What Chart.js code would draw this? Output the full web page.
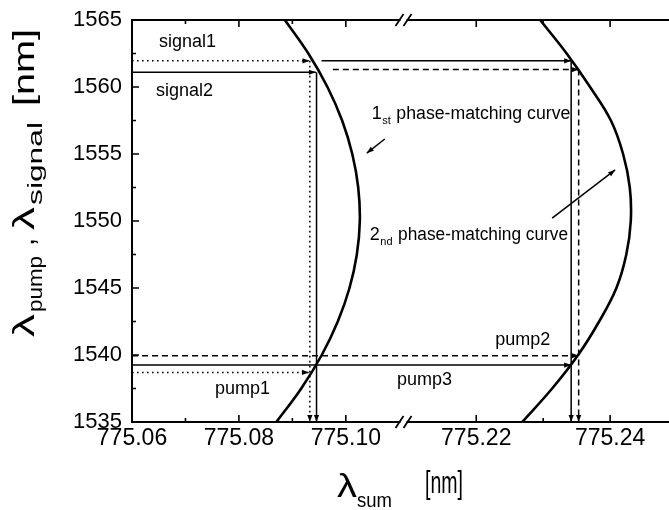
<!DOCTYPE html>
<html>
<head>
<meta charset="utf-8">
<script src="https://cdn.jsdelivr.net/npm/chart.js@4.4.1/dist/chart.umd.min.js"></script>
<style>
html,body{margin:0;padding:0;background:#ffffff;}
canvas{display:block;}
</style>
</head>
<body>
<canvas id="chart" width="669" height="510"></canvas>
<script>
// ---------- axes ----------
const xRange = [775.06, 775.2488];
const xBreak = [775.1092, 775.2104];
const xTicks = [775.06, 775.08, 775.10, 775.22, 775.24];
const xMinorTicks = [775.07, 775.09, 775.23];
const yRange = [1535, 1565];
const yTicks = [1535, 1540, 1545, 1550, 1555, 1560, 1565];
const yMinorTicks = [1537.5, 1542.5, 1547.5, 1552.5, 1557.5, 1562.5];

// ---------- 1st phase-matching curve ----------
const curve1Wavelength = [1535, 1537.5, 1540, 1542.5, 1545, 1547.5, 1550, 1552.5, 1555, 1557.5, 1560, 1562.5, 1565];
const curve1Sum = [775.08701, 775.09166, 775.09550, 775.09850, 775.10069, 775.10206, 775.10262, 775.10232, 775.10121, 775.09931, 775.09656, 775.09299, 775.08860];

// ---------- 2nd phase-matching curve ----------
const curve2Wavelength = [1535, 1537.5, 1540, 1542.5, 1545, 1547.5, 1550, 1552.5, 1555, 1557.5, 1560, 1562.5, 1565];
const curve2Sum = [775.22687, 775.23134, 775.23522, 775.23836, 775.24094, 775.24242, 775.24309, 775.24294, 775.24194, 775.24012, 775.23701, 775.23351, 775.22955];

// ---------- guide lines (signal / pump wavelengths, sum wavelengths) ----------
const signal1Sum = [775.06, 775.0932];      const signal1Lambda = [1561.95, 1561.95];
const signal2Sum = [775.06, 775.0944];      const signal2Lambda = [1561.1, 1561.1];
const signalR1Sum = [775.09546, 775.23418]; const signalR1Lambda = [1561.95, 1561.95];
const signalR2Sum = [775.09757, 775.2353];  const signalR2Lambda = [1561.3, 1561.3];
const pump1Sum = [775.06, 775.0931];        const pump1Lambda = [1538.7, 1538.7];
const pump3Sum = [775.06, 775.23418];       const pump3Lambda = [1539.25, 1539.25];
const pump2Sum = [775.06, 775.2353];        const pump2Lambda = [1539.95, 1539.95];
const dropDotSum = [775.09327, 775.09327];  const dropDotLambda = [1561.95, 1535];
const dropSolidSum = [775.09452, 775.09452];const dropSolidLambda = [1561.1, 1535];
const dropR1Sum = [775.23418, 775.23418];   const dropR1Lambda = [1561.95, 1535];
const dropR2Sum = [775.2353, 775.2353];     const dropR2Lambda = [1561.3, 1535];
const pointer1Sum = [775.10729, 775.10393]; const pointer1Lambda = [1556.12, 1555.07];
const pointer2Sum = [775.23134, 775.24075]; const pointer2Lambda = [1550.22, 1553.81];

// ---------- text labels ----------
const labelTexts = ['signal1', 'signal2', 'pump1', 'pump2', 'pump3'];
const labelSum = [775.06505, 775.06449, 775.07551, 775.22284, 775.12111];
const labelLambda = [1562.99, 1559.33, 1537.09, 1540.75, 1537.76];
const curveLabelSum = [775.10486, 775.10449];
const curveLabelLambda = [1557.61, 1548.58];
const curveLabelOrd = [['1', 'st'], ['2', 'nd']];

// ---------- layout constants ----------
const BREAK_FRAC = [263 / 537, 280 / 537];
const FONT = '"Liberation Sans", Arial, Helvetica, sans-serif';

class BrokenLinearScale extends Chart.LinearScale {
  getPixelForValue(value) {
    if (value === null || value === undefined || isNaN(value)) return NaN;
    const lo = xBreak[0], hi = xBreak[1];
    const fLo = BREAK_FRAC[0], fHi = BREAK_FRAC[1];
    let t;
    if (value <= lo) t = (value - this.min) / (lo - this.min) * fLo;
    else if (value >= hi) t = fHi + (value - hi) / (this.max - hi) * (1 - fHi);
    else t = fLo + (value - lo) / (hi - lo) * (fHi - fLo);
    return this.getPixelForDecimal(t);
  }
}
BrokenLinearScale.id = 'brokenLinear';
BrokenLinearScale.defaults = Chart.LinearScale.defaults;
Chart.register(BrokenLinearScale);

const STYLE = {
  solid: [],
  dashed: [6, 4],
  dotted: [1.6, 3.4]
};
function guide(xs, ys, style, arrow) {
  return {
    data: xs.map((x, i) => ({x: x, y: ys[i]})),
    borderColor: '#000', borderWidth: 1.5, borderDash: STYLE[style],
    borderCapStyle: 'butt', pointRadius: 0, showLine: true, tension: 0,
    arrowEnd: arrow, fill: false
  };
}
function curve(xs, ys) {
  return {
    data: xs.map((x, i) => ({x: x, y: ys[i]})),
    borderColor: '#000', borderWidth: 2.6, pointRadius: 0, showLine: true,
    tension: 0.4, fill: false
  };
}

const datasets = [
  curve(curve1Sum, curve1Wavelength),
  curve(curve2Sum, curve2Wavelength),
  guide(signal1Sum, signal1Lambda, 'dotted', true),
  guide(signal2Sum, signal2Lambda, 'solid', true),
  guide(signalR1Sum, signalR1Lambda, 'solid', true),
  guide(signalR2Sum, signalR2Lambda, 'dashed', true),
  guide(pump1Sum, pump1Lambda, 'dotted', true),
  guide(pump3Sum, pump3Lambda, 'solid', true),
  guide(pump2Sum, pump2Lambda, 'dashed', true),
  guide(dropDotSum, dropDotLambda, 'dotted', true),
  guide(dropSolidSum, dropSolidLambda, 'solid', true),
  guide(dropR1Sum, dropR1Lambda, 'solid', true),
  guide(dropR2Sum, dropR2Lambda, 'dashed', true),
  guide(pointer1Sum, pointer1Lambda, 'solid', true),
  guide(pointer2Sum, pointer2Lambda, 'solid', true)
];

function arrowHead(ctx, x0, y0, x1, y1, len, half) {
  const a = Math.atan2(y1 - y0, x1 - x0);
  const c = Math.cos(a), s = Math.sin(a);
  ctx.beginPath();
  ctx.moveTo(x1, y1);
  ctx.lineTo(x1 - len * c + half * s, y1 - len * s - half * c);
  ctx.lineTo(x1 - len * c - half * s, y1 - len * s + half * c);
  ctx.closePath();
  ctx.fill();
}
function drawFit(ctx, text, x, y, size, targetW) {
  ctx.font = size + 'px ' + FONT;
  const w = ctx.measureText(text).width;
  ctx.save();
  ctx.translate(x, y);
  if (targetW) ctx.scale(targetW / w, 1);
  ctx.fillText(text, 0, 0);
  ctx.restore();
}

const decorPlugin = {
  id: 'decor',
  afterDatasetsDraw(chart) {
    const ctx = chart.ctx;
    const ca = chart.chartArea;
    const xs = chart.scales.x, ys = chart.scales.y;
    ctx.save();
    ctx.fillStyle = '#000';
    ctx.strokeStyle = '#000';
    ctx.setLineDash([]);

    // arrowheads
    chart.data.datasets.forEach((ds, i) => {
      if (!ds.arrowEnd) return;
      const pts = chart.getDatasetMeta(i).data;
      const p1 = pts[pts.length - 1], p0 = pts[pts.length - 2];
      arrowHead(ctx, p0.x, p0.y, p1.x, p1.y, 7, 2.6);
    });

    // frame (left, top, bottom)
    ctx.lineWidth = 2;
    ctx.beginPath();
    ctx.moveTo(ca.left, ca.top); ctx.lineTo(ca.left, ca.bottom);
    ctx.moveTo(ca.left - 1, ca.top); ctx.lineTo(ca.right, ca.top);
    ctx.moveTo(ca.left - 1, ca.bottom); ctx.lineTo(ca.right, ca.bottom);
    ctx.stroke();

    // ticks (inward)
    ctx.lineWidth = 1.6;
    ctx.beginPath();
    yTicks.forEach(v => { const p = ys.getPixelForValue(v); ctx.moveTo(ca.left, p); ctx.lineTo(ca.left + 7, p); });
    yMinorTicks.forEach(v => { const p = ys.getPixelForValue(v); ctx.moveTo(ca.left, p); ctx.lineTo(ca.left + 4, p); });
    xTicks.forEach(v => {
      const p = xs.getPixelForValue(v);
      ctx.moveTo(p, ca.bottom); ctx.lineTo(p, ca.bottom - 7);
      ctx.moveTo(p, ca.top); ctx.lineTo(p, ca.top + 7);
    });
    xMinorTicks.forEach(v => {
      const p = xs.getPixelForValue(v);
      ctx.moveTo(p, ca.bottom); ctx.lineTo(p, ca.bottom - 4);
      ctx.moveTo(p, ca.top); ctx.lineTo(p, ca.top + 4);
    });
    ctx.stroke();

    // axis break marks
    const bx = (xs.getPixelForValue(xBreak[0]) + xs.getPixelForValue(xBreak[1])) / 2;
    [ca.top, ca.bottom].forEach(yy => {
      ctx.fillStyle = '#fff';
      ctx.fillRect(bx - 3, yy - 2, 6, 4);
      ctx.fillStyle = '#000';
      ctx.lineWidth = 1.8;
      ctx.beginPath();
      [-4, 4].forEach(dx => {
        ctx.moveTo(bx + dx - 4, yy + 6);
        ctx.lineTo(bx + dx + 4, yy - 6);
      });
      ctx.stroke();
    });

    // text labels
    ctx.textAlign = 'left';
    ctx.textBaseline = 'alphabetic';
    ctx.font = '18px ' + FONT;
    labelTexts.forEach((t, i) => {
      ctx.fillText(t, xs.getPixelForValue(labelSum[i]), ys.getPixelForValue(labelLambda[i]));
    });
    curveLabelOrd.forEach((o, i) => {
      const x0 = xs.getPixelForValue(curveLabelSum[i]);
      const y0 = ys.getPixelForValue(curveLabelLambda[i]);
      ctx.font = '18px ' + FONT;
      ctx.fillText(o[0], x0, y0);
      const w1 = ctx.measureText(o[0]).width;
      ctx.font = '11px ' + FONT;
      ctx.fillText(o[1], x0 + w1 + 0.5, y0 + 5);
      const w2 = ctx.measureText(o[1]).width;
      drawFit(ctx, 'phase-matching curve', x0 + w1 + w2 + 6, y0, 18, i === 0 ? 174 : 170);
    });

    // x-axis title: λsum [nm]
    drawFit(ctx, 'λ', 337, 497, 34, 20);
    drawFit(ctx, 'sum', 357, 507, 21, 35);
    drawFit(ctx, '[nm]', 425, 493, 32, 38);

    // y-axis title: λpump , λsignal [nm]   (rotated)
    const parts = [
      ['λ', 29, 337, 314, 34],
      ['pump', 20, 312, 256, 42],
      [',', 29, 246, 238, 34],
      ['λ', 29, 230, 207, 34],
      ['signal', 20, 205, 122, 42],
      ['[nm]', 29, 106, 29, 34]
    ];
    parts.forEach(p => {
      ctx.save();
      ctx.translate(p[4], p[2]);
      ctx.rotate(-Math.PI / 2);
      drawFit(ctx, p[0], 0, 0, p[1], p[2] - p[3]);
      ctx.restore();
    });
    ctx.restore();
  }
};

new Chart(document.getElementById('chart'), {
  type: 'scatter',
  data: { datasets: datasets },
  options: {
    responsive: false,
    animation: false,
    devicePixelRatio: 1,
    events: [],
    layout: { padding: { top: 20, right: 0, left: 0, bottom: 0 } },
    plugins: { legend: { display: false }, tooltip: { enabled: false } },
    scales: {
      x: {
        type: 'brokenLinear',
        bounds: 'data',
        min: xRange[0], max: xRange[1],
        grid: { display: false, drawTicks: false },
        border: { display: false },
        afterBuildTicks: s => { s.ticks = xTicks.map(v => ({ value: v })); },
        afterFit: s => { s.height = 88; s.paddingLeft = 0; s.paddingRight = 0; },
        ticks: {
          autoSkip: false, maxRotation: 0, minRotation: 0, padding: 3,
          color: '#000', font: { family: FONT, size: 23 },
          callback: v => Number(v).toFixed(2)
        }
      },
      y: {
        type: 'linear',
        bounds: 'data',
        min: yRange[0], max: yRange[1],
        grid: { display: false, drawTicks: false },
        border: { display: false },
        afterBuildTicks: s => { s.ticks = yTicks.map(v => ({ value: v })); },
        afterFit: s => { s.width = 132; s.paddingTop = 0; s.paddingBottom = 0; },
        ticks: {
          autoSkip: false, padding: 10,
          color: '#000', font: { family: FONT, size: 22 },
          callback: v => String(v)
        }
      }
    }
  },
  plugins: [decorPlugin]
});
</script>
</body>
</html>
